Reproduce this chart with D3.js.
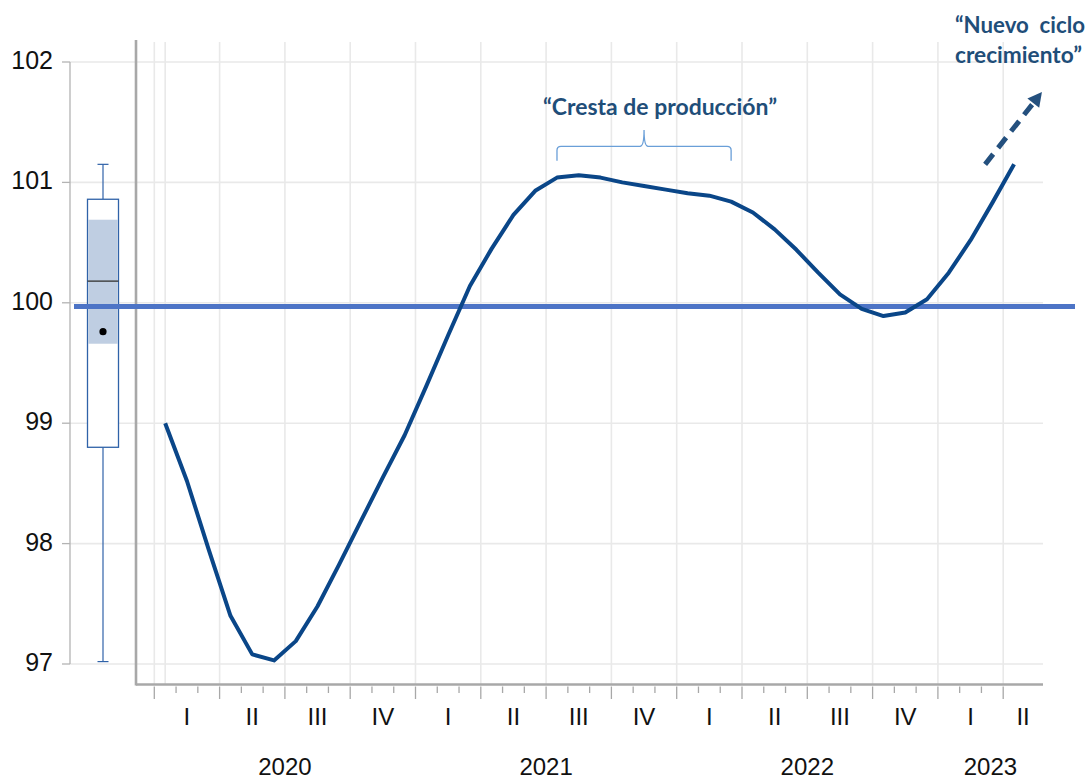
<!DOCTYPE html>
<html><head><meta charset="utf-8">
<script src="https://cdn.jsdelivr.net/npm/d3@7"></script>
<style>body{margin:0;background:#fff}svg{display:block}</style>
</head><body>
<svg id="chart" width="1088" height="780"></svg>
<script>
// ---------- data ----------
const years = ["2020", "2021", "2022", "2023"];
const quarterNames = ["I", "II", "III", "IV"];
// monthly index values, Jan 2020 .. Apr 2023
const values = [
  99.00, 98.52, 97.95, 97.40, 97.08, 97.03, 97.19, 97.48, 97.83, 98.19, 98.55, 98.90,
  99.31, 99.73, 100.14, 100.45, 100.73, 100.93, 101.04, 101.06, 101.04, 101.00, 100.97, 100.94,
  100.91, 100.89, 100.84, 100.75, 100.61, 100.44, 100.25, 100.07, 99.95, 99.89, 99.92, 100.03,
  100.25, 100.52, 100.83, 101.15
];
const yTicks = [97, 98, 99, 100, 101, 102];
const referenceLevel = [99.97];
const boxWhiskers = [97.02, 101.15];
const boxQuartiles = [98.80, 100.86];
const boxBand = [99.66, 100.69];
const boxMedian = [100.18];
const boxMean = [99.76];
const crestRange = [18, 26];           // months spanned by the brace
const crestLabel = ["“Cresta de producción”"];
const cycleLabel = ["“Nuevo  ciclo", "crecimiento”"];

// ---------- layout ----------
const svg = d3.select("#chart");
const frame = {left: 136, right: 1043, top: 40, bottom: 684.5};
const y = d3.scaleLinear().domain([97, 102]).range([664, 62]);
const x = d3.scaleLinear().domain([0, 39]).range([154.3, 1003.2]); // month boundaries
const boxX = 103, boxAxisX = 70;
const navy = "#1f4e79";

svg.append("rect").attr("width", 1088).attr("height", 780).attr("fill", "#fff");

// horizontal gridlines
svg.append("g").selectAll("line").data(yTicks).join("line")
  .attr("x1", boxAxisX).attr("x2", frame.right)
  .attr("y1", d => y(d)).attr("y2", d => y(d))
  .attr("stroke", "#e9e9e9").attr("stroke-width", 1.6);

// vertical gridlines: quarter boundaries + first observation
const quarterBounds = d3.range(0, 40, 3);
svg.append("g").selectAll("line").data(quarterBounds.concat([0.5])).join("line")
  .attr("x1", d => x(d)).attr("x2", d => x(d))
  .attr("y1", 42).attr("y2", frame.bottom)
  .attr("stroke", "#e9e9e9").attr("stroke-width", 1.6);

// left box axis
svg.append("line").attr("x1", boxAxisX).attr("x2", boxAxisX)
  .attr("y1", y(102)).attr("y2", y(97)).attr("stroke", "#b3b3b3").attr("stroke-width", 1.3);
svg.append("g").selectAll("line").data(yTicks).join("line")
  .attr("x1", 62).attr("x2", boxAxisX).attr("y1", d => y(d)).attr("y2", d => y(d))
  .attr("stroke", "#b3b3b3").attr("stroke-width", 1.3);
svg.append("g").selectAll("text").data(yTicks).join("text")
  .attr("x", 53).attr("y", d => y(d) - 2).attr("dy", "0.36em")
  .attr("text-anchor", "end").attr("font-family", "Liberation Sans, Arial, sans-serif")
  .attr("font-size", 25).attr("fill", "#111").text(d => d);

// box plot
const boxStroke = "#2f62a8";
const bw = 15.5;
svg.append("line").attr("x1", boxX).attr("x2", boxX)
  .attr("y1", y(boxWhiskers[0])).attr("y2", y(boxQuartiles[0]))
  .attr("stroke", boxStroke).attr("stroke-width", 1.2);
svg.append("line").attr("x1", boxX).attr("x2", boxX)
  .attr("y1", y(boxQuartiles[1])).attr("y2", y(boxWhiskers[1]))
  .attr("stroke", boxStroke).attr("stroke-width", 1.2);
svg.append("g").selectAll("line").data(boxWhiskers).join("line")
  .attr("x1", boxX - 5.5).attr("x2", boxX + 5.5).attr("y1", d => y(d)).attr("y2", d => y(d))
  .attr("stroke", boxStroke).attr("stroke-width", 1.2);
svg.append("rect").attr("x", boxX - bw).attr("width", 2 * bw)
  .attr("y", y(boxQuartiles[1])).attr("height", y(boxQuartiles[0]) - y(boxQuartiles[1]))
  .attr("fill", "#fff").attr("stroke", boxStroke).attr("stroke-width", 1.3);
svg.append("rect").attr("x", boxX - bw + 0.7).attr("width", 2 * bw - 1.4)
  .attr("y", y(boxBand[1])).attr("height", y(boxBand[0]) - y(boxBand[1]))
  .attr("fill", "#bfcee2");
svg.append("line").attr("x1", boxX - bw).attr("x2", boxX + bw)
  .attr("y1", y(boxMedian[0])).attr("y2", y(boxMedian[0]))
  .attr("stroke", "#3d3d3d").attr("stroke-width", 1.4);
svg.append("circle").attr("cx", boxX).attr("cy", y(boxMean[0])).attr("r", 3.6).attr("fill", "#000");

// frame
svg.append("line").attr("x1", frame.left).attr("x2", frame.left)
  .attr("y1", frame.top).attr("y2", frame.bottom + 1)
  .attr("stroke", "#a8a8a8").attr("stroke-width", 2.6);
svg.append("line").attr("x1", frame.left).attr("x2", frame.right)
  .attr("y1", frame.bottom).attr("y2", frame.bottom)
  .attr("stroke", "#a8a8a8").attr("stroke-width", 2.6);

// month ticks
const monthTicks = d3.range(0, 40);
svg.append("g").selectAll("line").data(monthTicks).join("line")
  .attr("x1", d => x(d)).attr("x2", d => x(d))
  .attr("y1", frame.bottom + 2).attr("y2", d => d % 3 === 0 ? 699 : 693)
  .attr("stroke", "#a8a8a8").attr("stroke-width", 1.3);

// quarter labels (centred on visible part)
const quarters = d3.range(14).map(q => {
  const x0 = x(q * 3), x1 = Math.min(x(q * 3 + 3), frame.right);
  return {name: quarterNames[q % 4], cx: (x0 + x1) / 2};
});
svg.append("g").selectAll("text").data(quarters).join("text")
  .attr("x", d => d.cx).attr("y", 725).attr("text-anchor", "middle")
  .attr("font-family", "Liberation Sans, Arial, sans-serif").attr("font-size", 24)
  .attr("fill", "#111").text(d => d.name);

// year labels
svg.append("g").selectAll("text").data(years).join("text")
  .attr("x", (d, i) => (x(i * 12) + Math.min(x(i * 12 + 12), frame.right)) / 2)
  .attr("y", 775).attr("text-anchor", "middle")
  .attr("font-family", "Liberation Sans, Arial, sans-serif").attr("font-size", 24)
  .attr("fill", "#111").text(d => d);

// reference line
svg.append("line").attr("x1", 74).attr("x2", 1075)
  .attr("y1", y(referenceLevel[0])).attr("y2", y(referenceLevel[0]))
  .attr("stroke", "#4d74c6").attr("stroke-width", 5);

// main line
const line = d3.line().x((d, i) => x(i + 0.5)).y(d => y(d));
svg.append("path").datum(values).attr("d", line)
  .attr("fill", "none").attr("stroke", "#0a4688").attr("stroke-width", 4)
  .attr("stroke-linejoin", "round");

// brace
const bx0 = x(crestRange[0] + 0.5), bx1 = x(crestRange[1] + 0.5), bm = (bx0 + bx1) / 2;
const by = y(101.30), byEnd = y(101.18), byTip = y(101.435);
svg.append("path")
  .attr("d", `M${bx0},${byEnd} L${bx0},${by + 4} Q${bx0},${by} ${bx0 + 4},${by} L${bm - 4},${by} Q${bm},${by} ${bm},${byTip}
              Q${bm},${by} ${bm + 4},${by} L${bx1 - 4},${by} Q${bx1},${by} ${bx1},${by + 4} L${bx1},${byEnd}`)
  .attr("fill", "none").attr("stroke", "#6a9fd8").attr("stroke-width", 1.3);

const labelFont = "Lato, 'Open Sans', sans-serif";
svg.append("text").attr("x", 543).attr("y", 115)
  .attr("font-family", labelFont).attr("font-weight", 700).attr("font-size", 22)
  .attr("textLength", 234).attr("lengthAdjust", "spacingAndGlyphs")
  .attr("fill", navy).text(crestLabel[0]);

const cycleWidths = [130, 127];
svg.append("g").selectAll("text").data(cycleLabel).join("text")
  .attr("x", 955).attr("y", (d, i) => 33 + i * 30)
  .attr("font-family", labelFont).attr("font-weight", 700).attr("font-size", 22)
  .attr("textLength", (d, i) => cycleWidths[i]).attr("lengthAdjust", "spacingAndGlyphs")
  .style("white-space", "pre")
  .attr("fill", navy).text(d => d);

// dashed arrow
const ax0 = x(38.17), ay0 = y(101.15), ax1 = x(40.78), ay1 = y(101.75);
const ang = Math.atan2(ay1 - ay0, ax1 - ax0);
const headLen = 14, headW = 7.5;
const bxh = ax1 - headLen * Math.cos(ang), byh = ay1 - headLen * Math.sin(ang);
svg.append("line").attr("x1", ax0).attr("y1", ay0).attr("x2", bxh).attr("y2", byh)
  .attr("stroke", "#24507e").attr("stroke-width", 5).attr("stroke-dasharray", "13,8");
svg.append("polygon")
  .attr("points", [
    [ax1, ay1],
    [bxh + headW * Math.sin(ang), byh - headW * Math.cos(ang)],
    [bxh - headW * Math.sin(ang), byh + headW * Math.cos(ang)]
  ].map(p => p.join(",")).join(" "))
  .attr("fill", "#24507e");
</script>
</body></html>
